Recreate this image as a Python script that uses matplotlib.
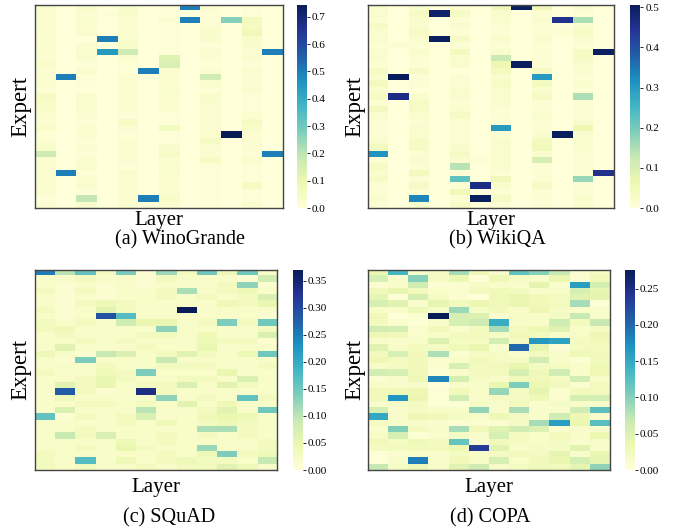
import numpy as np
import matplotlib
matplotlib.use("Agg")
import matplotlib.pyplot as plt

plt.rcParams['font.family'] = ['Liberation Serif', 'DejaVu Serif']

# routing weights per expert (rows) and layer (columns), in thousandths
wino = [
    [30, 0, 40, 0, 30, 0, 10, 500, 20, 0, 10, 0],
    [20, 0, 20, 10, 40, 0, 10, 0, 10, 0, 10, 0],
    [20, 0, 30, 0, 20, 0, 20, 500, 10, 270, 60, 0],
    [20, 0, 20, 0, 20, 0, 10, 0, 20, 0, 50, 0],
    [30, 0, 30, 0, 30, 0, 10, 0, 40, 0, 70, 0],
    [30, 0, 0, 500, 30, 0, 10, 0, 30, 0, 40, 0],
    [30, 0, 20, 0, 40, 0, 10, 0, 10, 0, 30, 0],
    [20, 0, 30, 440, 170, 0, 10, 0, 20, 0, 20, 500],
    [20, 0, 30, 0, 20, 0, 130, 0, 20, 0, 30, 0],
    [40, 0, 10, 0, 10, 0, 140, 0, 10, 0, 10, 0],
    [20, 0, 30, 0, 10, 500, 20, 0, 20, 0, 30, 0],
    [30, 500, 10, 0, 20, 0, 20, 0, 160, 0, 20, 0],
    [20, 0, 10, 0, 20, 0, 20, 0, 30, 0, 20, 0],
    [10, 0, 0, 0, 20, 0, 30, 0, 10, 0, 30, 0],
    [50, 0, 30, 0, 20, 0, 20, 0, 40, 0, 10, 0],
    [40, 0, 30, 0, 30, 0, 20, 0, 30, 0, 10, 0],
    [40, 0, 30, 0, 20, 0, 20, 0, 20, 0, 10, 0],
    [20, 0, 20, 0, 10, 0, 10, 0, 20, 0, 20, 0],
    [20, 0, 10, 0, 50, 0, 10, 0, 20, 0, 50, 0],
    [40, 0, 20, 0, 20, 0, 60, 0, 20, 0, 40, 0],
    [10, 0, 20, 0, 10, 0, 10, 0, 30, 745, 20, 0],
    [20, 0, 10, 0, 20, 0, 10, 0, 50, 0, 20, 0],
    [40, 0, 20, 0, 20, 0, 30, 0, 20, 0, 20, 0],
    [170, 0, 10, 0, 30, 0, 50, 0, 20, 0, 10, 500],
    [20, 0, 20, 0, 20, 0, 20, 0, 50, 0, 30, 0],
    [20, 0, 30, 0, 10, 0, 30, 0, 10, 0, 10, 0],
    [20, 500, 10, 0, 30, 0, 30, 0, 10, 0, 10, 0],
    [20, 0, 20, 0, 20, 0, 20, 0, 10, 0, 10, 0],
    [30, 0, 30, 0, 30, 0, 20, 0, 10, 0, 50, 0],
    [30, 0, 10, 0, 20, 0, 20, 0, 10, 0, 10, 0],
    [10, 0, 190, 0, 20, 500, 40, 0, 10, 0, 10, 0],
    [20, 0, 30, 0, 30, 0, 20, 0, 10, 0, 30, 0],
]

wikiqa = [
    [20, 0, 20, 0, 10, 0, 50, 500, 50, 0, 20, 0],
    [20, 0, 30, 490, 30, 0, 20, 0, 10, 0, 10, 0],
    [10, 0, 20, 0, 10, 0, 20, 0, 20, 450, 150, 0],
    [30, 0, 20, 0, 20, 0, 10, 0, 10, 0, 20, 0],
    [20, 0, 30, 0, 10, 0, 10, 0, 10, 10, 30, 0],
    [20, 0, 20, 500, 30, 0, 20, 0, 20, 0, 20, 0],
    [10, 10, 10, 0, 10, 0, 10, 0, 10, 0, 10, 0],
    [20, 0, 20, 0, 40, 0, 20, 0, 10, 0, 30, 500],
    [20, 0, 10, 0, 20, 0, 120, 0, 10, 0, 30, 0],
    [10, 0, 10, 0, 20, 0, 60, 500, 10, 0, 20, 0],
    [30, 0, 30, 0, 0, 0, 40, 0, 30, 0, 20, 0],
    [20, 507, 10, 0, 10, 0, 20, 0, 300, 0, 10, 0],
    [40, 0, 10, 0, 10, 0, 30, 0, 40, 0, 20, 0],
    [20, 0, 0, 0, 20, 0, 20, 0, 20, 0, 10, 0],
    [30, 460, 20, 0, 20, 0, 20, 0, 30, 0, 150, 0],
    [10, 0, 30, 0, 10, 0, 20, 0, 10, 0, 10, 0],
    [40, 0, 30, 0, 20, 0, 10, 0, 10, 0, 10, 0],
    [20, 0, 20, 0, 30, 0, 10, 0, 20, 0, 10, 0],
    [10, 0, 10, 0, 10, 0, 10, 0, 10, 0, 20, 0],
    [10, 0, 20, 0, 10, 0, 300, 0, 10, 0, 60, 0],
    [10, 0, 20, 0, 10, 0, 10, 0, 20, 500, 20, 0],
    [20, 0, 30, 0, 10, 0, 20, 0, 40, 0, 20, 0],
    [40, 0, 30, 0, 20, 0, 20, 0, 50, 0, 20, 0],
    [310, 0, 10, 0, 30, 0, 20, 0, 20, 0, 10, 0],
    [10, 0, 20, 0, 20, 10, 20, 0, 100, 0, 10, 0],
    [30, 0, 10, 0, 140, 0, 20, 0, 10, 0, 10, 0],
    [20, 0, 40, 0, 10, 0, 10, 0, 10, 0, 10, 450],
    [30, 0, 10, 0, 220, 0, 50, 0, 10, 0, 170, 0],
    [10, 0, 30, 0, 10, 460, 20, 0, 30, 0, 10, 0],
    [10, 0, 10, 0, 50, 0, 10, 0, 10, 0, 10, 0],
    [20, 0, 330, 0, 10, 500, 30, 0, 10, 0, 20, 0],
    [10, 0, 20, 0, 30, 0, 10, 0, 10, 0, 20, 0],
]

squad = [
    [250, 100, 160, 30, 140, 10, 120, 30, 150, 40, 150, 20],
    [20, 20, 30, 20, 20, 10, 30, 20, 20, 20, 10, 80],
    [20, 10, 20, 10, 20, 10, 20, 20, 20, 30, 130, 10],
    [30, 10, 30, 10, 20, 20, 30, 110, 20, 30, 40, 20],
    [20, 10, 20, 10, 20, 20, 30, 20, 30, 20, 30, 70],
    [20, 10, 30, 40, 30, 20, 20, 20, 20, 40, 30, 50],
    [30, 10, 20, 60, 30, 20, 20, 370, 20, 20, 20, 20],
    [20, 10, 20, 290, 170, 20, 20, 20, 20, 20, 20, 10],
    [30, 20, 30, 20, 80, 50, 50, 20, 30, 140, 30, 150],
    [30, 40, 20, 20, 20, 20, 130, 20, 20, 20, 20, 30],
    [20, 30, 20, 20, 20, 30, 30, 20, 40, 20, 20, 70],
    [20, 20, 30, 20, 30, 20, 20, 20, 40, 30, 30, 10],
    [20, 60, 20, 20, 20, 30, 20, 20, 50, 20, 20, 20],
    [40, 20, 10, 90, 70, 20, 30, 60, 30, 20, 40, 150],
    [20, 10, 140, 20, 20, 20, 90, 20, 20, 20, 20, 20],
    [20, 20, 20, 30, 20, 20, 30, 30, 30, 20, 20, 30],
    [30, 20, 20, 40, 30, 140, 20, 20, 20, 50, 20, 20],
    [20, 20, 30, 50, 30, 20, 20, 30, 30, 20, 70, 20],
    [20, 60, 30, 50, 20, 30, 30, 70, 20, 60, 30, 20],
    [20, 280, 30, 10, 20, 335, 30, 20, 20, 20, 20, 20],
    [20, 40, 20, 20, 20, 20, 130, 20, 30, 20, 160, 30],
    [20, 20, 30, 30, 20, 30, 20, 60, 20, 40, 20, 20],
    [20, 70, 20, 20, 20, 100, 20, 20, 30, 60, 20, 150],
    [160, 10, 30, 20, 30, 70, 20, 20, 40, 50, 40, 20],
    [20, 20, 20, 20, 30, 20, 40, 20, 30, 40, 30, 20],
    [20, 20, 30, 20, 20, 20, 20, 20, 110, 110, 30, 20],
    [20, 90, 30, 70, 20, 20, 30, 20, 30, 20, 30, 20],
    [20, 20, 20, 20, 40, 20, 30, 20, 20, 20, 20, 30],
    [20, 20, 30, 20, 50, 30, 20, 20, 120, 20, 20, 30],
    [30, 20, 20, 20, 20, 20, 30, 20, 40, 140, 30, 40],
    [30, 20, 170, 20, 40, 20, 30, 40, 30, 30, 20, 90],
    [30, 20, 30, 20, 20, 30, 20, 30, 30, 60, 40, 20],
]

copa = [
    [35, 135, 15, 20, 85, 30, 12, 120, 100, 68, 8, 18],
    [55, 10, 100, 18, 35, 2, 30, 18, 14, 35, 8, 28],
    [8, 14, 60, 6, 7, 18, 15, 12, 42, 10, 160, 57],
    [26, 38, 25, 15, 10, 22, 27, 22, 12, 15, 55, 38],
    [40, 3, 57, 18, 8, 2, 30, 36, 26, 20, 45, 42],
    [56, 45, 10, 40, 23, 35, 28, 36, 26, 23, 85, 3],
    [14, 12, 30, 16, 90, 18, 25, 14, 33, 18, 12, 14],
    [28, 1, 9, 276, 55, 50, 10, 18, 14, 20, 68, 15],
    [23, 9, 5, 14, 55, 63, 145, 16, 14, 62, 24, 67],
    [60, 57, 11, 28, 11, 22, 85, 22, 34, 47, 13, 20],
    [32, 28, 10, 15, 24, 25, 18, 28, 22, 14, 16, 32],
    [15, 10, 15, 50, 18, 20, 58, 21, 165, 155, 20, 28],
    [46, 16, 24, 20, 28, 36, 11, 200, 40, 3, 20, 24],
    [24, 55, 28, 80, 9, 18, 18, 11, 24, 15, 30, 28],
    [32, 23, 25, 9, 15, 28, 18, 20, 60, 15, 5, 25],
    [16, 21, 28, 7, 55, 22, 25, 37, 20, 20, 15, 30],
    [58, 56, 28, 5, 12, 22, 25, 57, 30, 60, 13, 33],
    [7, 12, 30, 180, 57, 18, 15, 28, 28, 21, 58, 13],
    [16, 12, 15, 1, 12, 15, 37, 105, 33, 25, 7, 25],
    [28, 30, 33, 4, 28, 15, 92, 20, 40, 9, 25, 25],
    [28, 168, 36, 5, 60, 12, 21, 18, 30, 11, 57, 58],
    [12, 16, 20, 5, 5, 18, 12, 25, 10, 18, 15, 13],
    [57, 11, 18, 14, 15, 95, 15, 82, 12, 10, 60, 122],
    [150, 12, 32, 28, 18, 15, 30, 20, 12, 62, 32, 12],
    [21, 15, 12, 10, 7, 7, 7, 18, 85, 160, 35, 125],
    [10, 102, 22, 12, 85, 28, 46, 60, 50, 7, 12, 12],
    [16, 55, 5, 12, 18, 12, 55, 20, 15, 25, 15, 35],
    [28, 18, 30, 22, 117, 10, 28, 21, 15, 20, 11, 16],
    [20, 22, 25, 24, 34, 235, 45, 15, 18, 18, 46, 12],
    [4, 7, 15, 10, 20, 13, 21, 25, 21, 40, 12, 37],
    [3, 13, 185, 12, 28, 18, 54, 15, 28, 36, 57, 42],
    [68, 18, 30, 13, 45, 63, 15, 20, 28, 25, 40, 95],
]

titles = ['(a) WinoGrande', '(b) WikiQA', '(c) SQuAD', '(d) COPA']
cbar_ticks = [np.arange(0, 0.75, 0.1), np.arange(0, 0.55, 0.1),
              np.arange(0, 0.36, 0.05), np.arange(0, 0.26, 0.05)]
tick_fmt = ['%.1f', '%.1f', '%.2f', '%.2f']

W, H = 681, 529
fig = plt.figure(figsize=(W / 100, H / 100), dpi=100)


def frac(x0, y0, x1, y1):
    # pixel box -> figure fraction rect
    return [x0 / W, 1 - y1 / H, (x1 - x0) / W, (y1 - y0) / H]


heat_boxes = [(35, 4.5, 282.5, 208), (368.3, 4.5, 614.3, 208),
              (35, 269.7, 277.3, 470), (368.3, 269.7, 610, 470)]
cbar_boxes = [(297, 4.5, 306.5, 208), (630, 4.5, 640, 208),
              (293, 269.7, 302.5, 470), (625, 269.7, 634.5, 470)]
caption_pos = [(180, 240), (497, 240), (169, 518), (490, 518)]
layer_pad = [2.5, 2.5, 6, 6]

datasets = [wino, wikiqa, squad, copa]
for i, data in enumerate(datasets):
    z = np.array(data) / 1000.0
    ax = fig.add_axes(frac(*heat_boxes[i]))
    im = ax.imshow(z, cmap='YlGnBu', aspect='auto', interpolation='nearest',
                   vmin=0, vmax=z.max())
    ax.set_xticks([])
    ax.set_yticks([])
    for s in ax.spines.values():
        s.set_color('#444444')
        s.set_linewidth(1.0)
    ax.set_xlabel('Layer', fontsize=15, labelpad=layer_pad[i])
    ax.set_ylabel('Expert', fontsize=16.5, labelpad=2.5)

    cax = fig.add_axes(frac(*cbar_boxes[i]))
    cb = fig.colorbar(im, cax=cax, ticks=cbar_ticks[i], format=tick_fmt[i])
    cb.outline.set_visible(False)
    cax.tick_params(labelsize=8, length=2.5, width=0.6, pad=1.5)

    fig.text(caption_pos[i][0] / W, 1 - caption_pos[i][1] / H, titles[i],
             fontsize=14.5, ha='center', va='center')

fig.savefig('out.png', dpi=100)
